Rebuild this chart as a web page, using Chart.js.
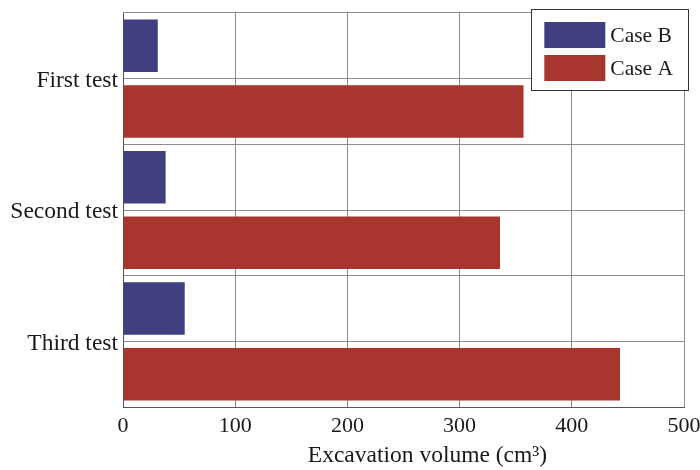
<!DOCTYPE html>
<html>
<head>
<meta charset="utf-8">
<script src="https://cdn.jsdelivr.net/npm/chart.js@4.4.1/dist/chart.umd.min.js"></script>
<style>
  html, body { margin: 0; padding: 0; background: #ffffff; }
  #wrap { width: 700px; height: 470px; }
</style>
</head>
<body>
<div id="wrap"><canvas id="c" width="700" height="470"></canvas></div>
<script>
// Excavation volume per test (cm³)
const categories = ['First test', 'Second test', 'Third test'];
const caseB = [31, 38, 55];
const caseA = [357, 336, 443];
const seriesNames = ['Case B', 'Case A'];
const xTicks = [0, 100, 200, 300, 400, 500];
const xTitle = 'Excavation volume (cm³)';

const FONT = 'Liberation Serif, Times New Roman, serif';
const BLUE = '#403f7f';
const RED = '#a8352e';
const TEXT = '#1a1a1a';

// Legend box inside the plot area (top-right) and the x-axis title, set slightly right of centre
const annotations = {
  id: 'annotations',
  afterDraw(chart) {
    const { ctx, chartArea } = chart;
    const sets = chart.data.datasets;
    const swW = 61, swH = 26, rowH = 33, padX = 13, padTop = 13, padBottom = 9, gap = 5;
    ctx.save();
    ctx.font = '21.5px ' + FONT;
    const textW = Math.max(...sets.map(d => ctx.measureText(d.label).width));
    const boxW = padX + swW + gap + textW + 15;
    const boxH = padTop + rowH * (sets.length - 1) + swH + padBottom;
    const right = chartArea.right + 4;
    const top = chartArea.top - 4;
    const left = right - boxW;
    ctx.fillStyle = '#ffffff';
    ctx.fillRect(left, top, boxW, boxH);
    ctx.strokeStyle = '#333333';
    ctx.lineWidth = 1;
    ctx.strokeRect(Math.round(left) + 0.5, Math.round(top) + 0.5, Math.round(boxW), Math.round(boxH));
    sets.forEach((d, i) => {
      const y = top + padTop + i * rowH;
      ctx.fillStyle = d.backgroundColor;
      ctx.fillRect(left + padX, y, swW, swH);
      ctx.fillStyle = TEXT;
      ctx.textBaseline = 'middle';
      ctx.textAlign = 'left';
      ctx.fillText(d.label, left + padX + swW + gap, y + swH / 2 + 1);
    });

    // axis title
    ctx.font = '23.5px ' + FONT;
    ctx.fillStyle = TEXT;
    ctx.textAlign = 'center';
    ctx.textBaseline = 'middle';
    ctx.fillText(xTitle, (chartArea.left + chartArea.right) / 2 + 24, chartArea.bottom + 49);
    ctx.restore();
  }
};

new Chart(document.getElementById('c'), {
  type: 'bar',
  data: {
    labels: categories,
    datasets: [
      { label: seriesNames[0], data: caseB, backgroundColor: BLUE, borderWidth: 0 },
      { label: seriesNames[1], data: caseA, backgroundColor: RED, borderWidth: 0 }
    ]
  },
  options: {
    indexAxis: 'y',
    responsive: false,
    animation: false,
    layout: { padding: { top: 13, right: 16, left: 0, bottom: 0 } },
    datasets: { bar: { categoryPercentage: 1.0, barPercentage: 0.8 } },
    plugins: {
      legend: { display: false },
      tooltip: { enabled: false }
    },
    scales: {
      x: {
        type: 'linear',
        min: 0,
        max: 500,
        afterBuildTicks(scale) { scale.ticks = xTicks.map(v => ({ value: v })); },
        afterFit(scale) {
          scale.height = 63;
          scale.paddingLeft = 0;
          scale.paddingRight = 0;
        },
        grid: { color: '#8c8c8c', lineWidth: 1, drawTicks: false },
        border: { color: '#555555', width: 1 },
        ticks: { color: TEXT, font: { family: FONT, size: 22 }, padding: 6, maxRotation: 0 }
      },
      y: {
        type: 'category',
        offset: true,
        afterFit(scale) {
          scale.width = 123;
          scale.paddingTop = 0;
          scale.paddingBottom = 0;
        },
        grid: { offset: false, color: '#8c8c8c', lineWidth: 1, drawTicks: false },
        border: { color: '#555555', width: 1 },
        ticks: { color: TEXT, font: { family: FONT, size: 23.5 }, padding: 5, labelOffset: 2 }
      },
      yEdges: {
        type: 'category',
        labels: categories,
        position: 'right',
        offset: true,
        afterFit(scale) {
          scale.width = 0;
          scale.paddingTop = 0;
          scale.paddingBottom = 0;
        },
        grid: { offset: true, color: '#8c8c8c', lineWidth: 1, drawTicks: false },
        border: { display: false },
        ticks: { display: false }
      }
    }
  },
  plugins: [annotations]
});
</script>
</body>
</html>
